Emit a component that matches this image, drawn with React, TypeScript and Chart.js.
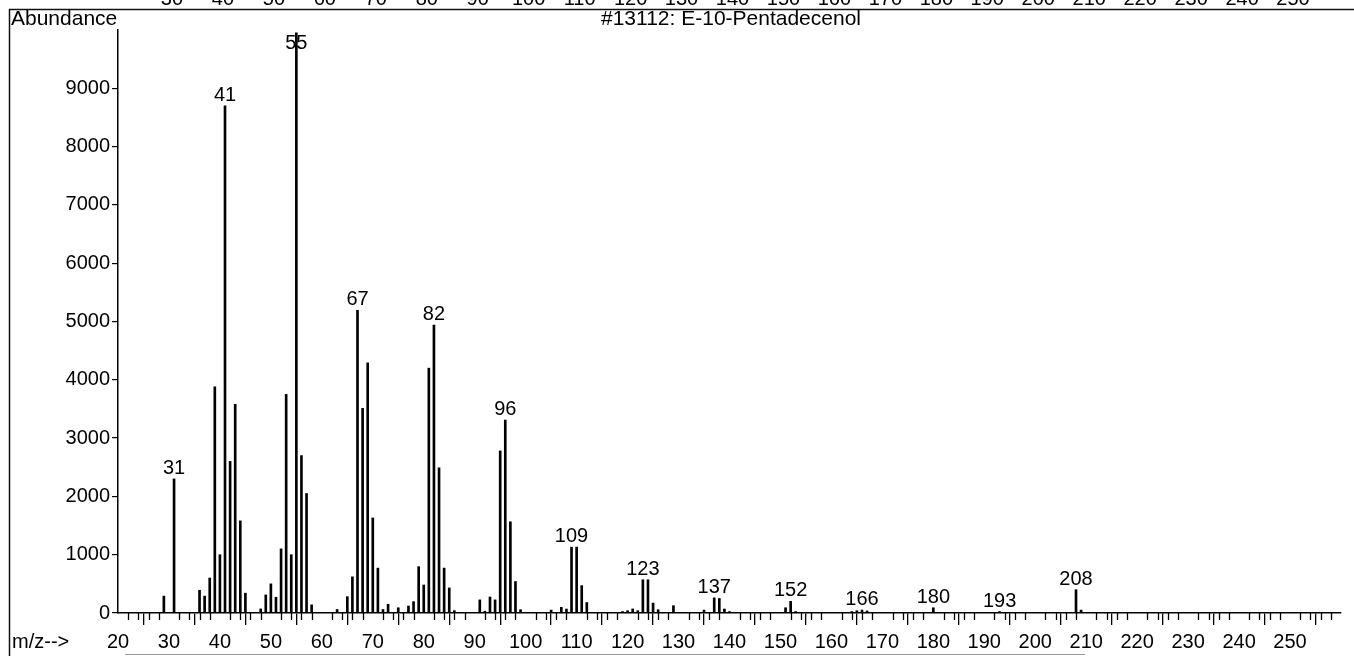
import React, { useEffect, useRef } from 'react';
import { Chart, registerables } from 'chart.js';

Chart.register(...registerables);

// ---- data ----
const mzValues = [
  29, 31, 36, 37, 38, 39, 40, 41, 42, 43, 44, 45, 48, 49, 50, 51, 52, 53, 54, 55, 56, 57, 58,
  63, 65, 66, 67, 68, 69, 70, 71, 72, 73, 75, 77, 78, 79, 80, 81, 82, 83, 84, 85, 86,
  91, 92, 93, 94, 95, 96, 97, 98, 99, 105, 107, 108, 109, 110, 111, 112,
  119, 120, 121, 122, 123, 124, 125, 126, 129, 135, 137, 138, 139, 140,
  151, 152, 153, 164, 165, 166, 167, 180, 193, 208, 209,
];
const abundances = [
  290, 2300, 390, 290, 600, 3880, 1000, 8700, 2600, 3580, 1580, 340, 70, 310, 500, 270, 1100, 3750, 1000, 9950, 2700, 2050, 140,
  60, 280, 620, 5190, 3510, 4290, 1630, 770, 60, 150, 90, 120, 195, 795, 480, 4200, 4940, 2490, 770, 430, 40,
  225, 30, 275, 225, 2780, 3310, 1565, 540, 57, 50, 97, 68, 1130, 1130, 470, 180,
  25, 40, 70, 40, 570, 570, 170, 57, 125, 50, 260, 250, 68, 25,
  90, 200, 25, 25, 40, 50, 35, 90, 25, 400, 50,
];
const labeledPeaks = [31, 41, 55, 67, 82, 96, 109, 123, 137, 152, 166, 180, 193, 208];
const xTickValues = [20, 30, 40, 50, 60, 70, 80, 90, 100, 110, 120, 130, 140, 150, 160, 170, 180, 190, 200, 210, 220, 230, 240, 250, 260];
const xTickLabels = ['20', '30', '40', '50', '60', '70', '80', '90', '100', '110', '120', '130', '140', '150', '160', '170', '180', '190', '200', '210', '220', '230', '240', '250', ''];
const yTickValues = [0, 1000, 2000, 3000, 4000, 5000, 6000, 7000, 8000, 9000];
const topCutLabels = ['30', '40', '50', '60', '70', '80', '90', '100', '110', '120', '130', '140', '150', '160', '170', '180', '190', '200', '210', '220', '230', '240', '250'];
const topCutValues = [30, 40, 50, 60, 70, 80, 90, 100, 110, 120, 130, 140, 150, 160, 170, 180, 190, 200, 210, 220, 230, 240, 250];
const chartTitle = '#13112: E-10-Pentadecenol';
const yAxisTitle = 'Abundance';
const xAxisTitle = 'm/z-->';

const FONT_FAMILY = '"Liberation Sans", Arial, sans-serif';

const decorPlugin = {
  id: 'decor',
  afterDraw(chart: any) {
    const { ctx, scales } = chart;
    const x = scales.x;
    const y = scales.y;
    const y0 = y.getPixelForValue(0);
    ctx.save();

    // minor ticks on m/z axis (every 2)
    ctx.strokeStyle = '#000';
    ctx.lineWidth = 1.3;
    ctx.beginPath();
    for (let v = 22; v < 260; v += 2) {
      if (v % 10 === 0) continue;
      const px = Math.round(x.getPixelForValue(v)) + 0.5;
      ctx.moveTo(px, y0);
      ctx.lineTo(px, y0 + 7);
    }
    ctx.stroke();

    // frame lines
    ctx.strokeStyle = '#111';
    ctx.lineWidth = 1.5;
    ctx.beginPath();
    ctx.moveTo(9, 9.5);
    ctx.lineTo(1354, 9.5);
    ctx.moveTo(9.5, 9);
    ctx.lineTo(9.5, 656);
    ctx.stroke();
    ctx.strokeStyle = '#999';
    ctx.lineWidth = 1;
    ctx.beginPath();
    ctx.moveTo(125, 654.5);
    ctx.lineTo(1085, 654.5);
    ctx.stroke();

    // texts
    ctx.fillStyle = '#000';
    ctx.font = `21px ${FONT_FAMILY}`;
    ctx.textAlign = 'left';
    ctx.textBaseline = 'alphabetic';
    ctx.fillText(yAxisTitle, 11, 25);
    ctx.font = `20px ${FONT_FAMILY}`;
    ctx.fillText(xAxisTitle, 12, 648);
    ctx.font = `21px ${FONT_FAMILY}`;
    ctx.textAlign = 'center';
    ctx.fillText(chartTitle, 731, 25);

    // clipped labels of the previous spectrum at the very top
    ctx.font = `20px ${FONT_FAMILY}`;
    topCutValues.forEach((v, i) => {
      ctx.fillText(topCutLabels[i], x.getPixelForValue(v) + 3, 5);
    });

    // peak labels
    ctx.font = `20px ${FONT_FAMILY}`;
    ctx.textAlign = 'center';
    ctx.textBaseline = 'alphabetic';
    labeledPeaks.forEach((m) => {
      const idx = mzValues.indexOf(m);
      if (idx < 0) return;
      const px = x.getPixelForValue(m);
      const py = y.getPixelForValue(abundances[idx]);
      const base = Math.max(py - 5, 49);
      ctx.fillText(String(m), px, base);
    });
    ctx.restore();
  },
};

export default function App() {
  const canvasRef = useRef<HTMLCanvasElement | null>(null);

  useEffect(() => {
    const canvas = canvasRef.current;
    if (!canvas) return;
    const chart = new Chart(canvas, {
      type: 'bar',
      data: {
        datasets: [
          {
            data: mzValues.map((m, i) => ({ x: m, y: abundances[i] })),
            backgroundColor: '#000',
            borderWidth: 0,
            barThickness: 2,
          },
        ],
      },
      options: {
        responsive: false,
        devicePixelRatio: 1,
        animation: false,
        layout: { padding: { left: 0, right: 13, top: 30, bottom: 0 } },
        plugins: {
          legend: { display: false },
          tooltip: { enabled: false },
        },
        scales: {
          x: {
            type: 'linear',
            min: 20,
            max: 260,
            offset: false,
            afterBuildTicks: (scale: any) => {
              scale.ticks = xTickValues.map((v) => ({ value: v }));
            },
            afterFit: (scale: any) => {
              scale.height = 43;
            },
            grid: {
              display: true,
              drawOnChartArea: false,
              drawTicks: true,
              tickLength: 12,
              color: '#000',
              lineWidth: 1.3,
            },
            border: { display: true, color: '#000', width: 1.5 },
            ticks: {
              autoSkip: false,
              maxRotation: 0,
              padding: 5,
              color: '#000',
              font: { family: FONT_FAMILY, size: 20 },
              callback: (value: any) => {
                const i = xTickValues.indexOf(Number(value));
                return i >= 0 ? xTickLabels[i] : '';
              },
            },
          },
          y: {
            type: 'linear',
            min: 0,
            max: 10000,
            afterBuildTicks: (scale: any) => {
              scale.ticks = yTickValues.map((v) => ({ value: v }));
            },
            afterFit: (scale: any) => {
              scale.width = 118;
            },
            grid: {
              display: true,
              drawOnChartArea: false,
              drawTicks: true,
              tickLength: 6,
              color: '#000',
              lineWidth: 1.2,
            },
            border: { display: true, color: '#000', width: 1.5 },
            ticks: {
              padding: 2,
              color: '#000',
              font: { family: FONT_FAMILY, size: 20 },
              callback: (value: any) => String(value),
            },
          },
        },
      },
      plugins: [decorPlugin],
    } as any);
    return () => {
      chart.destroy();
    };
  }, []);

  return (
    <div style={{ position: 'fixed', left: 0, top: 0, width: 1354, height: 656, background: '#fff' }}>
      <canvas ref={canvasRef} width={1354} height={656} style={{ display: 'block' }} />
    </div>
  );
}
